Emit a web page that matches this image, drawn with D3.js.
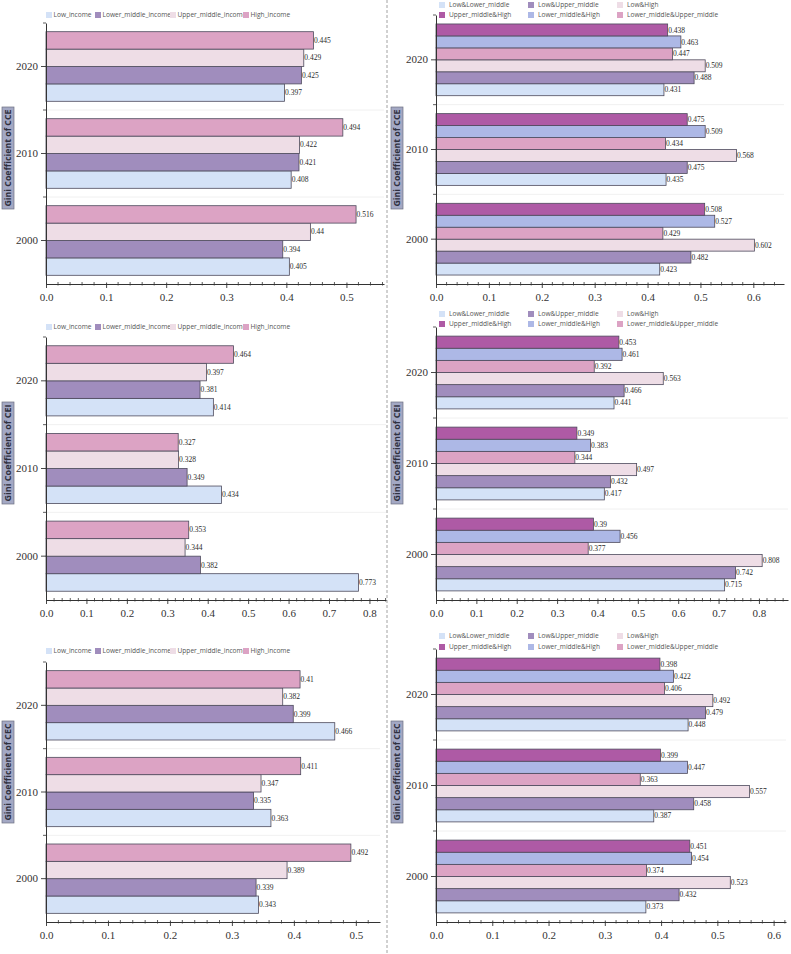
<!DOCTYPE html>
<html><head><meta charset="utf-8">
<script src="https://cdn.jsdelivr.net/npm/d3@7"></script>
<style>
html,body{margin:0;padding:0;background:#fff;}
svg{display:block;}
.serif{font-family:"Liberation Serif","Times New Roman","DejaVu Serif",serif;}
.sans{font-family:"Open Sans","DejaVu Sans",sans-serif;}
</style></head>
<body>
<svg id="chart" width="791" height="954"></svg>
<script>
// ---------------- DATA ----------------
const years = ["2000", "2010", "2020"];
const incomeSeries = ["Low_income", "Lower_middle_income", "Upper_middle_income", "High_income"];
const pairSeries = ["Low&Lower_middle", "Low&Upper_middle", "Low&High",
  "Lower_middle&Upper_middle", "Lower_middle&High", "Upper_middle&High"];

// each row = one series, values for 2000, 2010, 2020
const cceIncome = [
  [0.405, 0.408, 0.397],
  [0.394, 0.421, 0.425],
  [0.44, 0.422, 0.429],
  [0.516, 0.494, 0.445]
];
const ccePairs = [
  [0.423, 0.435, 0.431],
  [0.482, 0.475, 0.488],
  [0.602, 0.568, 0.509],
  [0.429, 0.434, 0.447],
  [0.527, 0.509, 0.463],
  [0.508, 0.475, 0.438]
];
const ceiIncome = [
  [0.773, 0.434, 0.414],
  [0.382, 0.349, 0.381],
  [0.344, 0.328, 0.397],
  [0.353, 0.327, 0.464]
];
const ceiPairs = [
  [0.715, 0.417, 0.441],
  [0.742, 0.432, 0.466],
  [0.808, 0.497, 0.563],
  [0.377, 0.344, 0.392],
  [0.456, 0.383, 0.461],
  [0.39, 0.349, 0.453]
];
const cecIncome = [
  [0.343, 0.363, 0.466],
  [0.339, 0.335, 0.399],
  [0.389, 0.347, 0.382],
  [0.492, 0.411, 0.41]
];
const cecPairs = [
  [0.373, 0.387, 0.448],
  [0.432, 0.458, 0.479],
  [0.523, 0.557, 0.492],
  [0.374, 0.363, 0.406],
  [0.454, 0.447, 0.422],
  [0.451, 0.399, 0.398]
];
const ticksTo05 = [0, 0.1, 0.2, 0.3, 0.4, 0.5];
const ticksTo06 = [0, 0.1, 0.2, 0.3, 0.4, 0.5, 0.6];
const ticksTo08 = [0, 0.1, 0.2, 0.3, 0.4, 0.5, 0.6, 0.7, 0.8];
const axisTitles = ["Gini Coefficient of CCE", "Gini Coefficient of CEI", "Gini Coefficient of CEC"];

// ---------------- STYLE ----------------
const incomeColors = ["#d4e2f7", "#a08dbd", "#eedde6", "#dca3c4"];
const pairColors = ["#d4e2f7", "#a08dbd", "#eedde6", "#dca3c4", "#adb8e6", "#ae5aa5"];

const panels = [
  {values: cceIncome, series: incomeSeries, colors: incomeColors, ticks: ticksTo05, max: 0.5625,
   x0: 46, x1: 384, top: 23, bottom: 284, title: axisTitles[0], titleX: 8, titleY: 158,
   legend: {xs: [46, 95, 170, 243], ys: [15]}},
  {values: ccePairs, series: pairSeries, colors: pairColors, ticks: ticksTo06, max: 0.658,
   x0: 436, x1: 784, top: 15, bottom: 284, title: axisTitles[0], titleX: 397, titleY: 158,
   legend: {cols: [439, 528, 617], rows: [5, 15]}},
  {values: ceiIncome, series: incomeSeries, colors: incomeColors, ticks: ticksTo08, max: 0.841,
   x0: 46, x1: 386, top: 337, bottom: 600, title: axisTitles[1], titleX: 8, titleY: 453,
   legend: {xs: [46, 95, 170, 243], ys: [327]}},
  {values: ceiPairs, series: pairSeries, colors: pairColors, ticks: ticksTo08, max: 0.872,
   x0: 436, x1: 788, top: 327, bottom: 600, title: axisTitles[1], titleX: 397, titleY: 453,
   legend: {cols: [439, 528, 617], rows: [314, 324]}},
  {values: cecIncome, series: incomeSeries, colors: incomeColors, ticks: ticksTo05, max: 0.539,
   x0: 46, x1: 380, top: 662, bottom: 922, title: axisTitles[2], titleX: 8, titleY: 772,
   legend: {xs: [46, 95, 170, 243], ys: [651]}},
  {values: cecPairs, series: pairSeries, colors: pairColors, ticks: ticksTo06, max: 0.622,
   x0: 436, x1: 786, top: 649, bottom: 922, title: axisTitles[2], titleX: 397, titleY: 772,
   legend: {cols: [439, 528, 617], rows: [636, 647]}}
];

const svg = d3.select("#chart");

// dashed separator
svg.append("line").attr("x1", 387).attr("x2", 387).attr("y1", 0).attr("y2", 954)
  .attr("stroke", "#8a8a8a").attr("stroke-width", 0.8).attr("stroke-dasharray", "3,2");

panels.forEach(p => {
  const g = svg.append("g");
  const x = d3.scaleLinear().domain([0, p.max]).range([p.x0, p.x1]);
  const yOrder = years.slice().reverse();
  const y = d3.scaleBand().domain(yOrder).range([p.top, p.bottom]).paddingInner(0.2).paddingOuter(0.1);
  const yi = d3.scaleBand().domain(p.series).range([y.bandwidth(), 0]);

  // faint separators between groups
  const bounds = d3.range(1, years.length).map(i => p.top + i * y.step());
  g.selectAll("line.grid").data(bounds).join("line")
    .attr("x1", p.x0).attr("x2", p.x1).attr("y1", d => d).attr("y2", d => d)
    .attr("stroke", "#ececec").attr("stroke-width", 0.8);

  // bars
  const cells = [];
  p.series.forEach((s, i) => years.forEach((yr, j) => cells.push({s, i, yr, v: p.values[i][j]})));
  g.selectAll("rect.bar").data(cells).join("rect")
    .attr("x", x(0))
    .attr("y", d => y(d.yr) + yi(d.s))
    .attr("width", d => x(d.v) - x(0))
    .attr("height", yi.bandwidth())
    .attr("fill", d => p.colors[d.i])
    .attr("stroke", "#4d4a5c").attr("stroke-width", 0.8);

  g.selectAll("text.val").data(cells).join("text")
    .attr("class", "serif")
    .attr("x", d => x(d.v) + 0.5)
    .attr("y", d => y(d.yr) + yi(d.s) + yi.bandwidth() / 2)
    .attr("dy", "0.35em")
    .style("font-size", "7.5px").attr("fill", "#2a2a2a")
    .text(d => String(d.v));

  // x axis minor ticks
  const minor = d3.range(0, p.max + 1e-9, 0.02).filter(v => Math.abs(v * 10 - Math.round(v * 10)) > 1e-6);
  g.append("g").attr("transform", `translate(0,${p.bottom})`)
    .selectAll("line").data(minor).join("line")
    .attr("x1", d => x(d)).attr("x2", d => x(d)).attr("y1", -2).attr("y2", 1.5)
    .attr("stroke", "#333").attr("stroke-width", 0.8);

  // x axis
  const xa = g.append("g").attr("transform", `translate(0,${p.bottom})`)
    .call(d3.axisBottom(x).tickValues(p.ticks).tickFormat(d3.format(".1f")).tickSize(4).tickSizeOuter(0));
  xa.attr("font-family", null);
  xa.select(".domain").attr("stroke", "#333").attr("stroke-width", 1);
  xa.selectAll(".tick line").attr("stroke", "#333").attr("stroke-width", 0.9).attr("y1", -1.5);
  xa.selectAll(".tick text").attr("class", "serif").style("font-size", "11px").attr("fill", "#333").attr("dy", "0.95em");

  // y axis minor ticks at group boundaries
  const yb = [p.top].concat(bounds);
  g.selectAll("line.ym").data(yb).join("line")
    .attr("x1", p.x0 - 3).attr("x2", p.x0).attr("y1", d => d).attr("y2", d => d)
    .attr("stroke", "#333").attr("stroke-width", 0.8);

  const ya = g.append("g").attr("transform", `translate(${p.x0},0)`)
    .call(d3.axisLeft(y).tickSize(5).tickSizeOuter(0).tickPadding(3));
  ya.attr("font-family", null);
  ya.select(".domain").attr("stroke", "#333").attr("stroke-width", 1);
  ya.selectAll(".tick line").attr("stroke", "#333").attr("stroke-width", 0.9);
  ya.selectAll(".tick text").attr("class", "serif").style("font-size", "11px").attr("fill", "#333");

  // axis title in a box
  const tg = g.append("g").attr("transform", `translate(${p.titleX},${p.titleY}) rotate(-90)`);
  tg.append("rect").attr("x", -51).attr("y", -6).attr("width", 102).attr("height", 12)
    .attr("fill", "#a3a8c4").attr("stroke", "#6d6f80").attr("stroke-width", 0.7);
  tg.append("text").attr("class", "sans").attr("x", 0).attr("y", 0).attr("dy", "0.36em")
    .attr("text-anchor", "middle").attr("font-weight", "bold")
    .style("font-size", "9.5px").attr("fill", "#2f3040")
    .attr("textLength", 97).attr("lengthAdjust", "spacingAndGlyphs")
    .text(p.title);

  // legend
  let items;
  if (p.legend.xs) {
    items = p.series.map((s, i) => ({s, c: p.colors[i], x: p.legend.xs[i], y: p.legend.ys[0]}));
  } else {
    const L = p.legend;
    const order = [[0, 1, 2], [5, 4, 3]];
    items = [];
    order.forEach((row, r) => row.forEach((si, c) => items.push({s: p.series[si], c: p.colors[si], x: L.cols[c], y: L.rows[r]})));
  }
  const lg = g.selectAll("g.leg").data(items).join("g").attr("transform", d => `translate(${d.x},${d.y})`);
  lg.append("rect").attr("x", 0).attr("y", -3).attr("width", 6).attr("height", 6).attr("fill", d => d.c);
  lg.append("text").attr("class", "sans").attr("x", p.legend.xs ? 7.5 : 10).attr("y", 0).attr("dy", "0.35em")
    .style("font-size", "6.6px").attr("fill", "#555").text(d => d.s);
});
</script>
</body></html>
